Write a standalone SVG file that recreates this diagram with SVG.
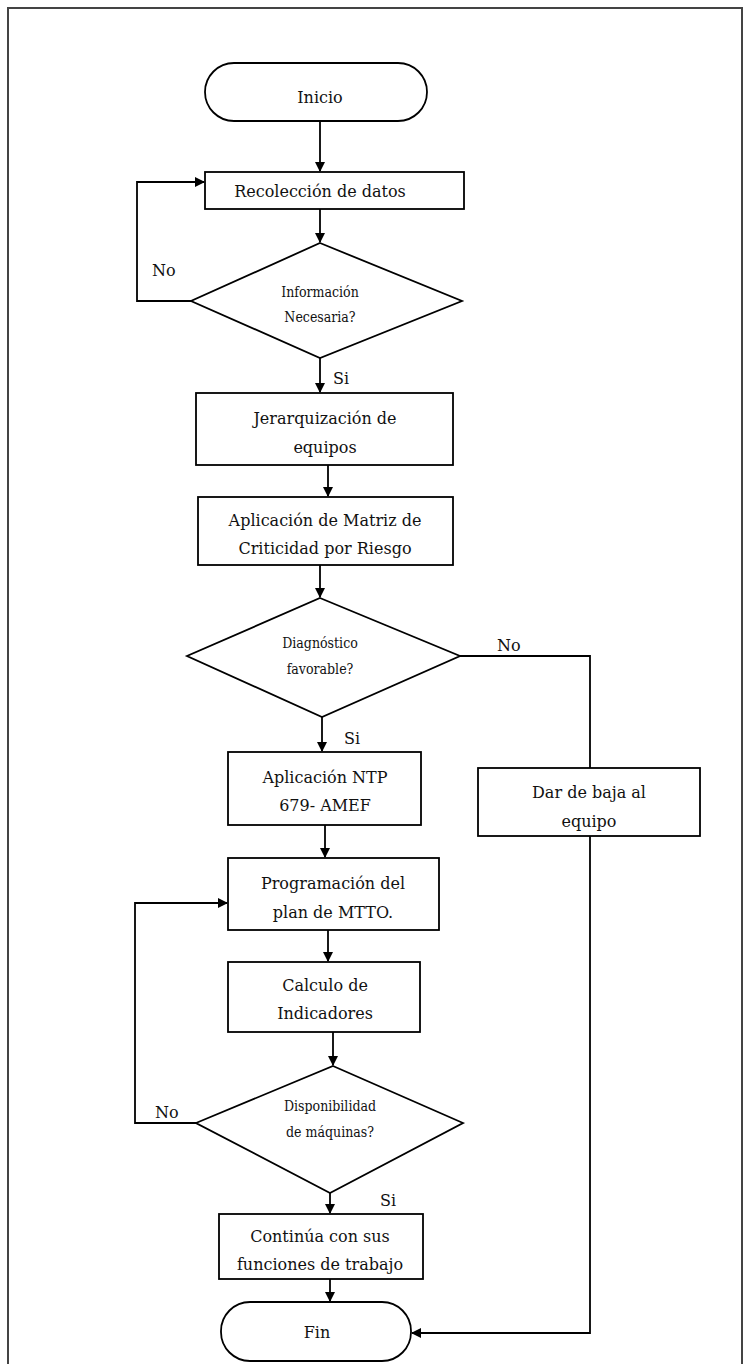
<svg xmlns="http://www.w3.org/2000/svg" width="745" height="1364" viewBox="0 0 745 1364">
<style>
.s{fill:#fff;stroke:#000;stroke-width:1.8}
.t{font-family:'DejaVu Serif','Liberation Serif',serif;font-size:16px;fill:#111;text-anchor:middle}
.d{font-family:'DejaVu Serif','Liberation Serif',serif;font-stretch:condensed;font-size:14px;fill:#111;text-anchor:middle}
.l{font-family:'DejaVu Serif','Liberation Serif',serif;font-size:16px;fill:#111}
.c{fill:none;stroke:#000;stroke-width:1.8}
</style>
<defs>
<marker id="a" markerWidth="10" markerHeight="10" refX="9" refY="5" orient="auto" markerUnits="userSpaceOnUse">
<path d="M0,0 L10,5 L0,10 Z" fill="#000"/>
</marker>
</defs>
<rect x="8" y="8" width="734" height="1362" fill="#fff" stroke="#444" stroke-width="2"/>
<g id="connectors">
<path class="c" d="M320,121 V171" marker-end="url(#a)"/>
<path class="c" d="M320,209 V242" marker-end="url(#a)"/>
<path class="c" d="M191,301 H137 V182 H204" marker-end="url(#a)"/>
<path class="c" d="M320,358 V392" marker-end="url(#a)"/>
<path class="c" d="M328,465 V496" marker-end="url(#a)"/>
<path class="c" d="M320,565 V597" marker-end="url(#a)"/>
<path class="c" d="M460,656 H590 V768"/>
<path class="c" d="M322,717 V751" marker-end="url(#a)"/>
<path class="c" d="M325,825 V857" marker-end="url(#a)"/>
<path class="c" d="M328,930 V961" marker-end="url(#a)"/>
<path class="c" d="M333,1032 V1065" marker-end="url(#a)"/>
<path class="c" d="M196,1123 H135 V903 H227" marker-end="url(#a)"/>
<path class="c" d="M330,1193 V1213" marker-end="url(#a)"/>
<path class="c" d="M330,1279 V1301" marker-end="url(#a)"/>
<path class="c" d="M590,836 V1333 H412" marker-end="url(#a)"/>
<text class="l" x="152" y="276">No</text>
<text class="l" x="333" y="384">Si</text>
<text class="l" x="497" y="651">No</text>
<text class="l" x="344" y="744">Si</text>
<text class="l" x="155" y="1118">No</text>
<text class="l" x="380" y="1206">Si</text>
</g>
<g id="inicio">
<rect class="s" x="205" y="63" width="222" height="58" rx="29"/>
<text class="t" x="320" y="103">Inicio</text>
</g>
<g id="recoleccion">
<rect class="s" x="205" y="172" width="259" height="37"/>
<text class="t" x="320" y="197">Recolección de datos</text>
</g>
<g id="informacion">
<polygon class="s" points="320,243 462,301 320,358 191,301"/>
<text class="d" x="320" y="297">Información</text>
<text class="d" x="320" y="322">Necesaria?</text>
</g>
<g id="jerarquizacion">
<rect class="s" x="196" y="393" width="257" height="72"/>
<text class="t" x="325" y="424">Jerarquización de</text>
<text class="t" x="325" y="453">equipos</text>
</g>
<g id="matriz">
<rect class="s" x="198" y="497" width="255" height="68"/>
<text class="t" x="325" y="526">Aplicación de Matriz de</text>
<text class="t" x="325" y="554">Criticidad por Riesgo</text>
</g>
<g id="diagnostico">
<polygon class="s" points="320,598 460,656 322,717 187,656"/>
<text class="d" x="320" y="648">Diagnóstico</text>
<text class="d" x="320" y="674">favorable?</text>
</g>
<g id="baja">
<rect class="s" x="478" y="768" width="222" height="68"/>
<text class="t" x="589" y="798">Dar de baja al</text>
<text class="t" x="589" y="827">equipo</text>
</g>
<g id="ntp">
<rect class="s" x="228" y="752" width="193" height="73"/>
<text class="t" x="325" y="783">Aplicación NTP</text>
<text class="t" x="325" y="811">679- AMEF</text>
</g>
<g id="programacion">
<rect class="s" x="228" y="858" width="211" height="72"/>
<text class="t" x="333" y="889">Programación del</text>
<text class="t" x="333" y="918">plan de MTTO.</text>
</g>
<g id="calculo">
<rect class="s" x="228" y="962" width="192" height="70"/>
<text class="t" x="325" y="991">Calculo de</text>
<text class="t" x="325" y="1019">Indicadores</text>
</g>
<g id="disponibilidad">
<polygon class="s" points="333,1066 463,1123 330,1193 196,1123"/>
<text class="d" x="330" y="1111">Disponibilidad</text>
<text class="d" x="330" y="1137">de máquinas?</text>
</g>
<g id="continua">
<rect class="s" x="219" y="1214" width="204" height="65"/>
<text class="t" x="320" y="1242">Continúa con sus</text>
<text class="t" x="320" y="1270">funciones de trabajo</text>
</g>
<g id="fin">
<rect class="s" x="221" y="1302" width="190" height="59" rx="29"/>
<text class="t" x="317" y="1338">Fin</text>
</g>
</svg>
